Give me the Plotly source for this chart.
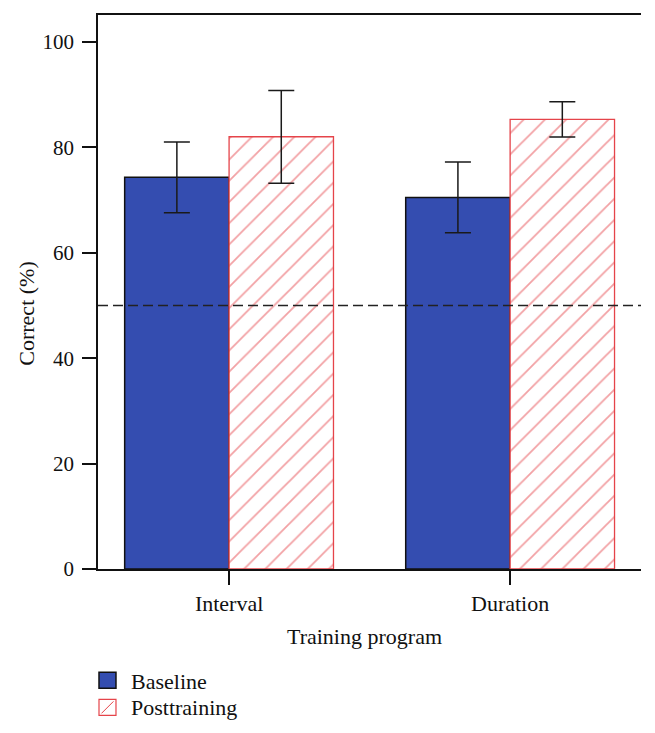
import plotly.graph_objects as go

categories = ["Interval", "Duration"]
baseline = [74.3, 70.5]
baseline_err = [6.7, 6.7]
posttraining = [82.0, 85.3]
posttraining_err = [8.8, 3.35]
chance_level = 50
y_ticks = [0, 20, 40, 60, 80, 100]

FONT = "Liberation Serif"
FS = 22
BLUE = "#344db0"
RED = "#e5444a"

# page body has an 8px margin; compensate so the plot lands where the reference has it
OFF = 8
W, H = 639, 717
L_ABS, T_ABS, BOT_ABS, RIGHT_ABS = 97.5, 15, 568.7, 641
L = L_ABS - OFF
T = T_ABS - OFF
R = (OFF + W) - RIGHT_ABS
B = (OFF + H) - BOT_ABS
pw = RIGHT_ABS - L_ABS
ph = BOT_ABS - T_ABS

def px_x(p):
    return (p - L_ABS) / pw

def px_y(p):
    return (BOT_ABS - p) / ph

fig = go.Figure()
fig.add_trace(go.Bar(
    name="Baseline", x=categories, y=baseline,
    marker=dict(color=BLUE, line=dict(color="#111111", width=1.5)),
    error_y=dict(type="data", array=baseline_err, color="#1a1a1a", thickness=1.5, width=13),
    showlegend=False,
))
fig.add_trace(go.Bar(
    name="Posttraining", x=categories, y=posttraining,
    marker=dict(color="white", line=dict(color=RED, width=1.3),
                pattern=dict(shape="/", fgcolor=RED, bgcolor="white", size=15, solidity=0.12)),
    error_y=dict(type="data", array=posttraining_err, color="#1a1a1a", thickness=1.5, width=13),
    showlegend=False,
))

fig.add_hline(y=chance_level, line=dict(color="#222222", width=1.5, dash="10px,5px"))

shapes = [
    dict(type="line", xref="paper", yref="paper", x0=1, x1=1, y0=0, y1=1,
         line=dict(color="#777777", width=1.2)),
    dict(type="rect", xref="paper", yref="paper",
         x0=px_x(98.5), x1=px_x(115.5), y0=px_y(672), y1=px_y(688),
         fillcolor=BLUE, line=dict(color="#111111", width=1.5)),
    dict(type="rect", xref="paper", yref="paper",
         x0=px_x(98.5), x1=px_x(115.5), y0=px_y(699), y1=px_y(715),
         fillcolor="white", line=dict(color=RED, width=1.2)),
    dict(type="line", xref="paper", yref="paper",
         x0=px_x(101), x1=px_x(113), y0=px_y(713), y1=px_y(701),
         line=dict(color=RED, width=1)),
]

annotations = [
    dict(text="Correct (%)", xref="paper", yref="paper", x=px_x(26), y=px_y(314),
         textangle=-90, showarrow=False, font=dict(family=FONT, size=FS, color="#111"),
         xanchor="center", yanchor="middle"),
    dict(text="Training program", xref="paper", yref="paper", x=px_x(364), y=px_y(636),
         showarrow=False, font=dict(family=FONT, size=FS, color="#111"),
         xanchor="center", yanchor="middle"),
    dict(text="Baseline", xref="paper", yref="paper", x=px_x(129), y=px_y(681),
         showarrow=False, font=dict(family=FONT, size=FS, color="#111"),
         xanchor="left", yanchor="middle"),
    dict(text="Posttraining", xref="paper", yref="paper", x=px_x(129), y=px_y(707),
         showarrow=False, font=dict(family=FONT, size=FS, color="#111"),
         xanchor="left", yanchor="middle"),
]

fig.update_layout(
    width=W, height=H,
    margin=dict(l=L, r=R, t=T, b=B, autoexpand=False),
    paper_bgcolor="white", plot_bgcolor="white",
    barmode="group", bargap=0.257, bargroupgap=0,
    font=dict(family=FONT, size=FS, color="#111"),
    shapes=shapes, annotations=annotations,
    showlegend=False,
)
fig.update_xaxes(
    type="category", range=[-0.4664, 1.4657],
    showline=True, linecolor="#111111", linewidth=1.5, mirror=True,
    ticks="outside", ticklen=14, tickwidth=1.5, tickcolor="#111111",
    showgrid=False, zeroline=False, ticklabelstandoff=0,
    tickfont=dict(size=22),
)
fig.update_yaxes(
    range=[0, 105.1], tickvals=y_ticks,
    showline=True, linecolor="#111111", linewidth=1.5,
    ticks="outside", ticklen=14, tickwidth=1.5, tickcolor="#111111",
    showgrid=False, zeroline=False, ticklabelstandoff=4,
    tickfont=dict(size=21),
)

fig.write_html("out.html")
